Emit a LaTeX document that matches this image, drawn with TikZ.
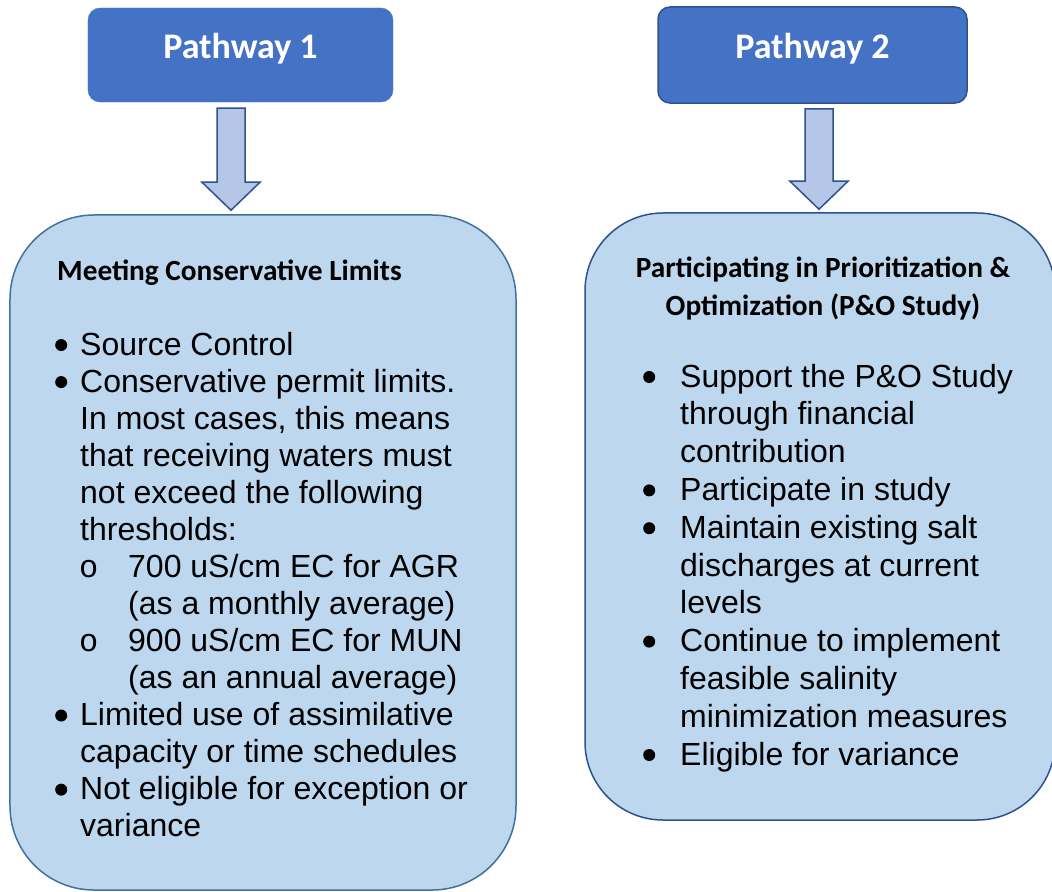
\documentclass[tikz,border=0pt]{standalone}
\usepackage{fontspec}
\setmainfont{Liberation Sans}
\newfontfamily\headfont{Carlito}
\newfontfamily\ringfont{Liberation Mono}
\usetikzlibrary{calc}

\definecolor{pathblue}{HTML}{4472C4}
\definecolor{pathedge}{HTML}{2F528F}
\definecolor{listfill}{HTML}{BDD7EE}
\definecolor{listedge}{HTML}{41719C}
\definecolor{arrowfill}{HTML}{B4C7E7}

% list bullets
\newcommand{\dotbullet}[1]{\makebox[#1][l]{\tikz[baseline=-10bp]\fill (0,0) circle (6bp);}}
\newcommand{\ringbullet}{\hspace*{24bp}\makebox[49bp][l]{\ringfont o}}

% block arrow, #1 = top of the shaft, #2 = tip
\newcommand{\blockarrow}[2]{%
  \draw[arrowshape] ($(#1)+(-14,0)$) -- ($(#1)+(14,0)$) -- ($(#2)+(14,-28)$)
    -- ($(#2)+(29,-28)$) -- (#2) -- ($(#2)+(-29,-28)$) -- ($(#2)+(-14,-28)$) -- cycle;}

\begin{document}
\begin{tikzpicture}[x=1bp, y=-1bp,
    pathbox/.style={rounded corners=12bp, fill=pathblue, text=white,
      font=\headfont\bfseries\fontsize{36bp}{43bp}\selectfont,
      text height=24bp, text depth=17.4bp},
    listbox/.style={rounded corners=#1, fill=listfill, line width=1.5bp},
    headtext/.style={inner sep=0pt, font=\headfont\bfseries\fontsize{29.3bp}{38bp}\selectfont},
    listtext/.style={inner sep=0pt, align=left, anchor=base west},
    arrowshape/.style={fill=arrowfill, draw=pathedge, line width=1.5bp, line join=miter}]

  \useasboundingbox (0,0) rectangle (1052,892);

  % the two pathways
  \node[pathbox, draw=pathblue, minimum width=305bp, minimum height=94bp] (path1) at (240.5,55) {Pathway 1};
  \node[pathbox, draw=pathedge, line width=1.5bp, minimum width=309bp, minimum height=96bp] (path2) at (812.5,55) {Pathway 2};

  \node[listbox=84bp, draw=listedge, minimum width=506bp, minimum height=675bp] (list1) at (263,552.5) {};
  \node[listbox=78bp, draw=pathedge, minimum width=470bp, minimum height=607bp] (list2) at (820,516.5) {};

  \coordinate (a1top) at ($(path1.south)+(-9.5,6)$);
  \coordinate (a1tip) at ($(a1top |- list1.north)+(0,-4)$);
  \coordinate (a2top) at ($(path2.south)+(6.5,5)$);
  \coordinate (a2tip) at ($(a2top |- list2.north)+(0,-3)$);
  \blockarrow{a1top}{a1tip}
  \blockarrow{a2top}{a2tip}

  % pathway 1 (multi-line nodes sit on the baseline of their last line)
  \node[headtext, anchor=base west] (head1) at (57,280) {Meeting Conservative Limits};
  \node[listtext, font=\fontsize{32bp}{37.05bp}\selectfont] (body1) at (55,836.7) {%
    \dotbullet{25bp}Source Control\\
    \dotbullet{25bp}Conservative permit limits.\\
    \hspace*{25bp}In most cases, this means\\
    \hspace*{25bp}that receiving waters must\\
    \hspace*{25bp}not exceed the following\\
    \hspace*{25bp}thresholds:\\
    \ringbullet 700 uS/cm EC for AGR\\
    \hspace*{73bp}(as a monthly average)\\
    \ringbullet 900 uS/cm EC for MUN\\
    \hspace*{73bp}(as an annual average)\\
    \dotbullet{25bp}Limited use of assimilative\\
    \hspace*{25bp}capacity or time schedules\\
    \dotbullet{25bp}Not eligible for exception or\\
    \hspace*{25bp}variance};

  % pathway 2
  \node[headtext, anchor=base, align=center] (head2) at (823,315)
    {Participating in Prioritization \&\\Optimization (P\&O Study)};
  \node[listtext, font=\fontsize{32bp}{37.8bp}\selectfont] (body2) at (643,765) {%
    \dotbullet{37bp}Support the P\&O Study\\
    \hspace*{37bp}through financial\\
    \hspace*{37bp}contribution\\
    \dotbullet{37bp}Participate in study\\
    \dotbullet{37bp}Maintain existing salt\\
    \hspace*{37bp}discharges at current\\
    \hspace*{37bp}levels\\
    \dotbullet{37bp}Continue to implement\\
    \hspace*{37bp}feasible salinity\\
    \hspace*{37bp}minimization measures\\
    \dotbullet{37bp}Eligible for variance};
\end{tikzpicture}
\end{document}
